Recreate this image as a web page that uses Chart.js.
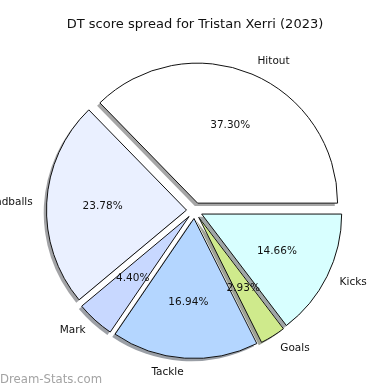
<!DOCTYPE html>
<html>
<head>
<meta charset="utf-8">
<script src="https://cdn.jsdelivr.net/npm/chart.js@4/dist/chart.umd.min.js"></script>
<style>
  body { margin: 0; background: #fff; }
  canvas { display: block; }
</style>
</head>
<body>
<canvas id="pie" width="390" height="390"></canvas>
<script>
// values (matplotlib order, counter-clockwise from 3 o'clock)
const categories = ['Hitout', 'Handballs', 'Mark', 'Tackle', 'Goals', 'Kicks'];
const shares = [37.30, 23.78, 4.40, 16.94, 2.93, 14.66];
const sliceColors = ['#ffffff', '#eaf0ff', '#c8d8ff', '#b4d6ff', '#cfea8c', '#d8ffff'];
const chartTitle = 'DT score spread for Tristan Xerri (2023)';
const watermark = 'Dream-Stats.com';

// chart.js goes clockwise, so flip the order to get the same layout
const labels = categories.slice().reverse();
const values = shares.slice().reverse();
const colors = sliceColors.slice().reverse();
const total = values.reduce((a, b) => a + b, 0);

const EXPLODE = 8;   // px each wedge is pushed out
const SHADOW = 2.8;  // px shadow offset (left / down)

function shadeOf(hex) {
    const n = parseInt(hex.slice(1), 16);
    const r = Math.round(((n >> 16) & 255) * 0.3);
    const g = Math.round(((n >> 8) & 255) * 0.3);
    const b = Math.round((n & 255) * 0.3);
    return `rgba(${r},${g},${b},0.5)`;
}

const explodePlugin = {
    id: 'explode',
    beforeDatasetsDraw(chart) {
        const area = chart.chartArea;
        const cx = (area.left + area.right) / 2;
        const cy = (area.top + area.bottom) / 2;
        const ctx = chart.ctx;
        const arcs = chart.getDatasetMeta(0).data;

        arcs.forEach(arc => {
            const mid = (arc.startAngle + arc.endAngle) / 2;
            arc.x = cx + Math.cos(mid) * EXPLODE;
            arc.y = cy + Math.sin(mid) * EXPLODE;
        });

        // shadows first so they sit under every wedge
        ctx.save();
        arcs.forEach((arc, i) => {
            const sx = arc.x - SHADOW;
            const sy = arc.y + SHADOW;
            ctx.beginPath();
            ctx.moveTo(sx, sy);
            ctx.arc(sx, sy, arc.outerRadius, arc.startAngle, arc.endAngle);
            ctx.closePath();
            ctx.fillStyle = shadeOf(colors[i]);
            ctx.fill();
        });
        ctx.restore();
    },
    afterDatasetsDraw(chart) {
        const ctx = chart.ctx;
        const arcs = chart.getDatasetMeta(0).data;
        ctx.save();
        ctx.font = '10.5px "DejaVu Sans", sans-serif';
        ctx.fillStyle = '#111';
        ctx.textBaseline = 'middle';
        arcs.forEach((arc, i) => {
            const mid = (arc.startAngle + arc.endAngle) / 2;
            const r = arc.outerRadius;
            const c = Math.cos(mid), s = Math.sin(mid);

            ctx.textAlign = c > 0 ? 'left' : 'right';
            ctx.fillText(labels[i], arc.x + c * r * 1.1, arc.y + s * r * 1.1);

            ctx.textAlign = 'center';
            const pct = (values[i] / total * 100).toFixed(2) + '%';
            ctx.fillText(pct, arc.x + c * r * 0.6, arc.y + s * r * 0.6);
        });

        ctx.font = '13px "DejaVu Sans", sans-serif';
        ctx.textAlign = 'center';
        ctx.fillStyle = '#111';
        ctx.fillText(chartTitle, 195, 25);

        ctx.font = '11.7px "DejaVu Sans", sans-serif';
        ctx.textAlign = 'left';
        ctx.fillStyle = '#a3a3a3';
        ctx.fillText(watermark, 0, 380);
        ctx.restore();
    }
};

new Chart(document.getElementById('pie'), {
    type: 'pie',
    data: {
        labels: labels,
        datasets: [{
            data: values,
            backgroundColor: colors,
            borderColor: '#111',
            borderWidth: 1
        }]
    },
    options: {
        responsive: false,
        animation: false,
        events: [],
        rotation: 90,
        radius: 140,
        layout: { padding: { top: 31, bottom: 0, left: 0, right: 1 } },
        plugins: {
            legend: { display: false },
            tooltip: { enabled: false },
            title: { display: false }
        }
    },
    plugins: [explodePlugin]
});
</script>
</body>
</html>
